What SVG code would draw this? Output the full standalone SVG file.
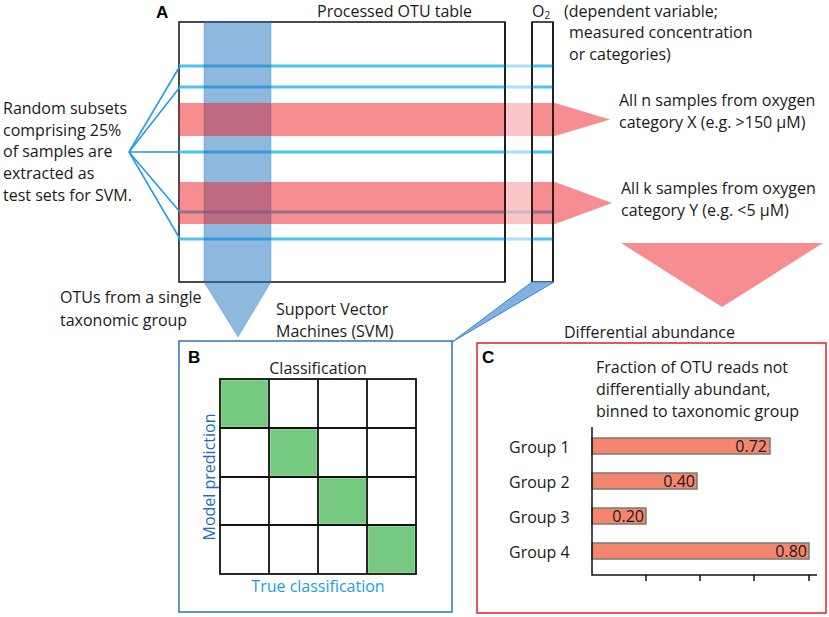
<svg xmlns="http://www.w3.org/2000/svg" width="829" height="617" viewBox="0 0 829 617">
<style>
text{font-family:"Open Sans","Liberation Sans",sans-serif;font-size:16px;fill:#1a1a1a}
.lbl{font-family:"Liberation Sans",Arial,sans-serif;font-weight:bold;font-size:17px;fill:#000}
.cy{stroke:#4dc3f3;stroke-width:3}
.red{fill:#ed1c24;fill-opacity:0.5}
.blu{fill:#1f72c0;fill-opacity:0.5}
.grid{fill:none;stroke:#111;stroke-width:1.8}
.green{fill:#77c982;stroke:#a3e2a6;stroke-width:1}
.bar{fill:#f4866e;stroke:#7a7a7a;stroke-width:1.5}
.conn{stroke:#1e9be0;stroke-width:1.5;fill:none}
</style>
<rect width="829" height="617" fill="#fff"/>

<g id="panelA">
  <text class="lbl" x="156" y="18">A</text>
  <text x="317" y="17">Processed OTU table</text>
  <text x="532" y="17">O<tspan font-size="10" dy="2">2</tspan></text>
  <text x="564" y="17">(dependent variable;</text>
  <text x="569" y="38">measured concentration</text>
  <text x="569" y="60">or categories)</text>
</g>

<g id="otu-table">
  <rect x="179" y="22" width="326" height="260" fill="#fff" stroke="#111" stroke-width="1.5"/>
</g>
<g id="o2-column">
  <rect x="532" y="22" width="21" height="260" fill="#fff" stroke="#111" stroke-width="1.5"/>
</g>

<g id="test-rows">
  <line class="cy" x1="179" y1="66" x2="553" y2="66"/>
  <line class="cy" x1="179" y1="87" x2="553" y2="87"/>
  <line class="cy" x1="179" y1="152" x2="553" y2="152"/>
  <line class="cy" x1="179" y1="212" x2="553" y2="212"/>
  <line class="cy" x1="179" y1="239" x2="553" y2="239"/>
</g>

<g id="otu-group-column">
  <polygon class="blu" points="204,22 271,22 271,282 238,337 204,282" stroke="#1f72c0" stroke-opacity="0.3" stroke-width="1"/>
</g>

<g id="category-X">
  <polygon class="red" points="179,103 555,103 610,119.5 555,136 179,136"/>
</g>
<g id="category-Y">
  <polygon class="red" points="179,182 555,182 612,203 555,224 179,224"/>
</g>
<rect x="506" y="58" width="25" height="186" fill="#fff" fill-opacity="0.5"/>
<line x1="505" y1="22" x2="505" y2="282" stroke="#111" stroke-width="1.5"/>
<line x1="532" y1="22" x2="532" y2="282" stroke="#111" stroke-width="1.5"/>
<line x1="553" y1="22" x2="553" y2="282" stroke="#111" stroke-width="1.5"/>

<g id="diff-arrow">
  <polygon class="red" points="621,243 823,243 722,307"/>
</g>

<g id="o2-wedge">
  <polygon points="532,282 554,282 452,342" fill="#80b1e0" stroke="#3a86c8" stroke-width="1"/>
</g>

<g id="connectors">
  <line class="conn" x1="129" y1="152" x2="180" y2="66"/>
  <line class="conn" x1="129" y1="152" x2="180" y2="87"/>
  <line class="conn" x1="129" y1="152" x2="180" y2="152"/>
  <line class="conn" x1="129" y1="152" x2="180" y2="212"/>
  <line class="conn" x1="129" y1="152" x2="180" y2="239"/>
</g>

<g id="subset-label">
  <text x="3" y="114">Random subsets</text>
  <text x="3" y="136">comprising 25%</text>
  <text x="3" y="157">of samples are</text>
  <text x="3" y="179">extracted as</text>
  <text x="3" y="201">test sets for SVM.</text>
</g>

<g id="right-labels">
  <text x="619" y="106">All n samples from oxygen</text>
  <text x="619" y="128">category X (e.g. &gt;150 µM)</text>
  <text x="621" y="194">All k samples from oxygen</text>
  <text x="621" y="216">category Y (e.g. &lt;5 µM)</text>
</g>

<g id="mid-labels">
  <text x="60" y="303">OTUs from a single</text>
  <text x="60" y="326">taxonomic group</text>
  <text x="276" y="315">Support Vector</text>
  <text x="276" y="337">Machines (SVM)</text>
  <text x="564" y="338">Differential abundance</text>
</g>

<g id="panelB">
  <rect x="179" y="341" width="273" height="271" fill="none" stroke="#2e75b6" stroke-width="1.5"/>
  <text class="lbl" x="188" y="363">B</text>
  <text x="318" y="374" text-anchor="middle">Classification</text>
  <rect class="green" x="221" y="380" width="47" height="47"/>
  <rect class="green" x="270" y="429" width="47" height="47"/>
  <rect class="green" x="319" y="478" width="47" height="46"/>
  <rect class="green" x="368" y="526" width="47" height="47"/>
  <rect class="grid" x="220" y="379" width="196" height="195"/>
  <path class="grid" d="M269,379V574M318,379V574M367,379V574M220,428H416M220,477H416M220,525H416"/>
  <text transform="translate(215,477) rotate(-90)" text-anchor="middle" style="fill:#1f6fc0">Model prediction</text>
  <text x="318" y="592" text-anchor="middle" style="fill:#1ba1e2">True classification</text>
</g>

<g id="panelC">
  <rect x="477" y="343" width="349" height="270" fill="none" stroke="#e31e24" stroke-width="1.5"/>
  <text class="lbl" x="482" y="363">C</text>
  <text x="596" y="373">Fraction of OTU reads not</text>
  <text x="596" y="395">differentially abundant,</text>
  <text x="596" y="417">binned to taxonomic group</text>
  <rect class="bar" x="592" y="438" width="178" height="16"/>
  <rect class="bar" x="592" y="473" width="105" height="16"/>
  <rect class="bar" x="592" y="508" width="54" height="16"/>
  <rect class="bar" x="592" y="543" width="217" height="16"/>
  <path d="M592,427V575H817M646,575V581M700,575V581M754,575V581M809,575V581" fill="none" stroke="#111" stroke-width="1.5"/>
  <text x="509" y="453">Group 1</text>
  <text x="509" y="488">Group 2</text>
  <text x="509" y="523">Group 3</text>
  <text x="509" y="558">Group 4</text>
  <text x="767" y="452" text-anchor="end">0.72</text>
  <text x="695" y="487" text-anchor="end">0.40</text>
  <text x="644" y="522" text-anchor="end">0.20</text>
  <text x="807" y="557" text-anchor="end">0.80</text>
</g>
</svg>
